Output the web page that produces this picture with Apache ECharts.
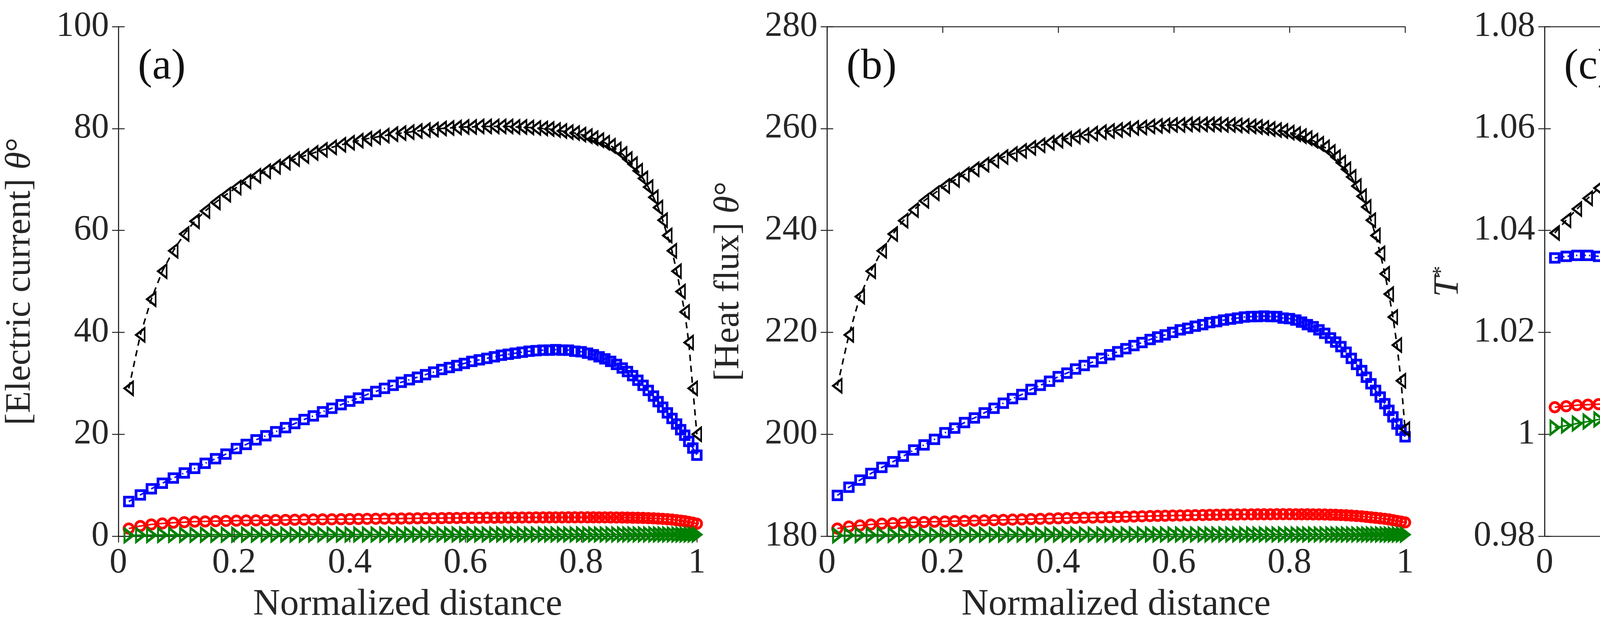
<!DOCTYPE html>
<html><head><meta charset="utf-8">
<script src="https://cdn.jsdelivr.net/npm/echarts@6/dist/echarts.min.js"></script>
<style>html,body{margin:0;padding:0;background:#fff}#c{width:5497px;height:1630px}</style>
</head><body><div id="c"></div>
<script>
const xs = [0.018,0.038,0.057,0.076,0.095,0.114,0.132,0.150,0.168,0.186,
0.204,0.221,0.238,0.255,0.272,0.289,0.305,0.321,0.337,0.353,
0.369,0.385,0.400,0.415,0.430,0.445,0.460,0.475,0.489,0.503,
0.517,0.531,0.545,0.559,0.572,0.585,0.598,0.611,0.624,0.637,
0.650,0.662,0.674,0.686,0.698,0.710,0.722,0.734,0.745,0.756,
0.767,0.778,0.789,0.800,0.811,0.821,0.831,0.841,0.851,0.861,
0.871,0.880,0.889,0.898,0.907,0.916,0.925,0.933,0.941,0.949,
0.957,0.965,0.972,0.979,0.986,0.993,1.000];

const blackA = [29,39.5,46.5,52,56,59.3,61.8,63.8,65.5,67,
68.4,69.6,70.7,71.6,72.5,73.3,74,74.6,75.2,75.8,
76.3,76.8,77.2,77.6,78,78.3,78.6,78.9,79.1,79.3,
79.5,79.7,79.8,80,80.1,80.2,80.3,80.3,80.4,80.4,
80.4,80.4,80.4,80.3,80.3,80.2,80.1,80,79.9,79.7,
79.5,79.3,79.1,78.8,78.5,78.1,77.7,77.2,76.6,75.9,
75,74,73,71.7,70.2,68.5,66.5,64.5,62,59,
56,52,48,44,38,29,20];
const blueA = [6.8,8.1,9.3,10.4,11.4,12.4,13.3,14.3,15.2,16.1,
17.2,18.0,18.9,19.7,20.5,21.3,22.1,22.9,23.6,24.4,
25.1,25.8,26.5,27.1,27.8,28.4,29.0,29.6,30.2,30.7,
31.2,31.7,32.2,32.7,33.1,33.5,33.9,34.3,34.6,34.9,
35.2,35.5,35.7,35.9,36.1,36.3,36.4,36.5,36.5,36.6,
36.5,36.5,36.3,36.2,35.9,35.6,35.2,34.8,34.3,33.7,
33.0,32.3,31.5,30.6,29.6,28.6,27.5,26.4,25.3,24.2,
23.1,22.0,20.9,19.8,18.6,17.3,15.9];
const redA = [1.5,2.0,2.3,2.5,2.65,2.75,2.85,2.9,2.95,3.0,
3.05,3.08,3.1,3.13,3.16,3.19,3.22,3.25,3.27,3.3,
3.32,3.34,3.36,3.38,3.4,3.42,3.44,3.46,3.47,3.49,
3.5,3.52,3.53,3.55,3.56,3.57,3.58,3.6,3.61,3.62,
3.63,3.64,3.65,3.66,3.67,3.67,3.68,3.68,3.69,3.69,
3.69,3.7,3.7,3.7,3.7,3.7,3.69,3.69,3.68,3.67,
3.66,3.65,3.63,3.61,3.58,3.55,3.5,3.45,3.4,3.33,
3.25,3.15,3.05,2.95,2.8,2.65,2.45];
const greenA = [0.15,0.2,0.22,0.24,0.25,0.26,0.27,0.28,0.28,0.29,
0.29,0.3,0.3,0.3,0.31,0.31,0.31,0.31,0.32,0.32,
0.32,0.32,0.32,0.33,0.33,0.33,0.33,0.33,0.33,0.34,
0.34,0.34,0.34,0.34,0.34,0.34,0.34,0.35,0.35,0.35,
0.35,0.35,0.35,0.35,0.35,0.35,0.35,0.35,0.35,0.35,
0.35,0.35,0.35,0.35,0.35,0.35,0.35,0.35,0.35,0.35,
0.35,0.35,0.35,0.35,0.35,0.35,0.34,0.34,0.34,0.34,
0.34,0.33,0.33,0.33,0.32,0.32,0.31];

const blackB = [209.5,219.5,227,232,236,239.3,241.9,244,245.8,247.3,
248.7,249.9,251,252,252.9,253.7,254.4,255,255.6,256.2,
256.7,257.2,257.6,258,258.4,258.7,259,259.3,259.5,259.7,
259.9,260.1,260.2,260.4,260.5,260.6,260.7,260.7,260.8,260.8,
260.8,260.8,260.8,260.7,260.7,260.6,260.5,260.4,260.3,260.1,
259.9,259.7,259.5,259.2,258.9,258.5,258.1,257.6,257,256.3,
255.4,254.4,253.3,252,250.5,248.7,246.7,244.6,242,239,
235.5,231.5,227.5,223,217.5,210.5,201];
const blueB = [188,189.6,191,192.3,193.5,194.6,195.7,196.9,197.9,199,
200.3,201.2,202.3,203.2,204.2,205.1,206.1,207,207.8,208.8,
209.6,210.4,211.3,212,212.8,213.5,214.2,214.9,215.6,216.2,
216.8,217.4,218,218.6,219.1,219.5,220,220.5,220.8,221.2,
221.5,221.9,222.1,222.4,222.6,222.8,223,223.1,223.1,223.2,
223.1,223.1,222.8,222.7,222.4,222,221.5,221.1,220.5,219.8,
218.9,218.1,217.2,216.1,214.9,213.7,212.5,211.2,209.9,208.6,
207.3,206,204.7,203.4,202,200.8,199.5];
const redB = [181.5,181.9,182.1,182.3,182.45,182.55,182.65,182.72,182.78,182.84,
182.9,182.95,183.0,183.05,183.1,183.15,183.2,183.25,183.3,183.35,
183.4,183.45,183.5,183.54,183.58,183.62,183.66,183.7,183.74,183.78,
183.82,183.86,183.9,183.94,183.98,184.01,184.04,184.07,184.1,184.13,
184.15,184.17,184.19,184.21,184.23,184.25,184.27,184.28,184.29,184.3,
184.3,184.31,184.31,184.31,184.3,184.3,184.29,184.28,184.27,184.25,
184.22,184.19,184.15,184.1,184.04,183.97,183.9,183.8,183.7,183.6,
183.5,183.4,183.3,183.15,183.0,182.85,182.7];
const greenB = [180.15,180.2,180.22,180.24,180.25,180.26,180.27,180.28,180.28,180.29,
180.29,180.3,180.3,180.3,180.31,180.31,180.31,180.31,180.32,180.32,
180.32,180.32,180.32,180.33,180.33,180.33,180.33,180.33,180.33,180.34,
180.34,180.34,180.34,180.34,180.34,180.34,180.34,180.35,180.35,180.35,
180.35,180.35,180.35,180.35,180.35,180.35,180.35,180.35,180.35,180.35,
180.35,180.35,180.35,180.35,180.35,180.35,180.35,180.35,180.35,180.35,
180.35,180.35,180.35,180.35,180.35,180.35,180.34,180.34,180.34,180.34,
180.34,180.33,180.33,180.33,180.32,180.32,180.31];

const blackC = [1.0395,1.0420,1.0442,1.0463,1.0483,1.0502,1.0519,1.0536,1.0552,1.0566,
1.0580,1.0592,1.0603,1.0612,1.0620,1.0626,1.0630,1.0633,1.0635,1.0636,
1.0636,1.0635,1.0633,1.0630,1.0626,1.0620,1.0614,1.0607,1.0599,1.0590,
1.0582,1.0574,1.0565,1.0556,1.0546,1.0537,1.0527,1.0514,1.0500,1.0485,
1.0469,1.0453,1.0437,1.0420,1.0403,1.0386,1.0368,1.0350,1.0333,1.0316,
1.0299,1.0282,1.0265,1.0248,1.0231,1.0215,1.0200,1.0184,1.0169,1.0153,
1.0138,1.0124,1.0110,1.0096,1.0083,1.0069,1.0056,1.0043,1.0031,1.0019,
1.0007,0.9995,0.9984,0.9974,0.9965,0.9959,0.9955];
const blueC = [1.0346,1.0349,1.0351,1.0351,1.0349,1.0346,1.0342,1.0337,1.0332,1.0326,
1.0315,1.0309,1.0303,1.0297,1.0291,1.0285,1.0279,1.0273,1.0267,1.0261,
1.0255,1.0249,1.0244,1.0238,1.0232,1.0226,1.0220,1.0214,1.0208,1.0202,
1.0197,1.0191,1.0185,1.0180,1.0174,1.0169,1.0164,1.0158,1.0152,1.0145,
1.0139,1.0133,1.0127,1.0121,1.0115,1.0109,1.0103,1.0097,1.0092,1.0086,
1.0081,1.0076,1.0070,1.0065,1.0060,1.0055,1.0050,1.0045,1.0040,1.0035,
1.0031,1.0026,1.0022,1.0017,1.0013,1.0008,1.0004,1.0000,0.9996,0.9992,
0.9988,0.9984,0.9981,0.9978,0.9975,0.9972,0.9969];
const redC = [1.0053,1.0055,1.0057,1.0058,1.0059,1.0060,1.0061,1.0061,1.0062,1.0062,
1.0062,1.0062,1.0062,1.0062,1.0061,1.0061,1.0060,1.0060,1.0059,1.0058,
1.0058,1.0057,1.0056,1.0055,1.0054,1.0053,1.0052,1.0051,1.0050,1.0049,
1.0048,1.0047,1.0046,1.0045,1.0044,1.0043,1.0042,1.0041,1.0040,1.0039,
1.0038,1.0037,1.0036,1.0035,1.0034,1.0033,1.0032,1.0031,1.0030,1.0029,
1.0028,1.0027,1.0026,1.0025,1.0024,1.0023,1.0022,1.0021,1.0020,1.0019,
1.0018,1.0017,1.0016,1.0015,1.0014,1.0013,1.0013,1.0012,1.0011,1.0011,
1.0010,1.0010,1.0009,1.0009,1.0008,1.0008,1.0008];
const greenC = [1.0013,1.0017,1.0021,1.0025,1.0029,1.0032,1.0036,1.0039,1.0042,1.0044,
1.0046,1.0048,1.0050,1.0051,1.0052,1.0053,1.0054,1.0055,1.0056,1.0057,
1.0057,1.0058,1.0058,1.0058,1.0058,1.0058,1.0058,1.0058,1.0057,1.0057,
1.0057,1.0056,1.0056,1.0055,1.0055,1.0054,1.0053,1.0052,1.0051,1.0050,
1.0049,1.0048,1.0047,1.0046,1.0045,1.0044,1.0043,1.0042,1.0041,1.0040,
1.0039,1.0038,1.0037,1.0036,1.0035,1.0034,1.0033,1.0032,1.0031,1.0030,
1.0029,1.0028,1.0027,1.0026,1.0025,1.0024,1.0022,1.0021,1.0019,1.0017,
1.0015,1.0013,1.0011,1.0009,1.0007,1.0005,1.0002];

const xTicks = [0, 0.2, 0.4, 0.6, 0.8, 1];
const panelLabels = ['(a)', '(b)', '(c)'];
const yRanges = [[0,100,20],[180,280,20],[0.98,1.08,0.02]];
const yNames = ['[Electric current] {i|θ}°', '[Heat flux] {i|θ}°', '{i|T}{s|*}'];
const xName = 'Normalized distance';

const FONT = 'Liberation Serif';
const TXT = '#262626';
const grids = [
  {left:303, right:5497-1784, top:68, bottom:258},
  {left:2117, right:5497-3597, top:68, bottom:258},
  {left:3954, right:85, top:68, bottom:258}
];
const panels = [
  {black:blackA, blue:blueA, red:redA, green:greenA},
  {black:blackB, blue:blueB, red:redB, green:greenB},
  {black:blackC, blue:blueC, red:redC, green:greenC}
];
const zip = ys => xs.map((x,i)=>[x, ys[i]]);
const axisLineS = {show:true, lineStyle:{color:TXT, width:2.5}};
const tickS = {show:true, inside:true, length:16, lineStyle:{color:TXT, width:2.5}};
const rich = {i:{fontFamily:FONT, fontStyle:'italic', fontSize:92, color:TXT},
              s:{fontFamily:FONT, fontSize:58, color:TXT, padding:[0,0,34,0]}};

const xAxis = [], yAxis = [], series = [], title = [];
grids.forEach((g, k) => {
  const [ymin, ymax, yint] = yRanges[k];
  xAxis.push({gridIndex:k, type:'value', min:0, max:1, interval:0.2, position:'bottom',
    name:xName, nameLocation:'middle', nameGap:128,
    nameTextStyle:{fontFamily:FONT, fontSize:96, color:TXT},
    axisLine:axisLineS, axisTick:tickS, splitLine:{show:false},
    axisLabel:{fontFamily:FONT, fontSize:90, color:TXT, margin:24,
      formatter:v=>String(+v.toFixed(2))}});
  xAxis.push({gridIndex:k, type:'value', min:0, max:1, interval:0.2, position:'top',
    axisLine:axisLineS, axisTick:tickS, splitLine:{show:false}, axisLabel:{show:false}});
  yAxis.push({gridIndex:k, type:'value', min:ymin, max:ymax, interval:yint, position:'left',
    name:yNames[k], nameLocation:'middle', nameGap: k===2 ? 200 : 205,
    nameTextStyle:{fontFamily:FONT, fontSize:92, color:TXT, rich:rich},
    axisLine:axisLineS, axisTick:tickS, splitLine:{show:false},
    axisLabel:{fontFamily:FONT, fontSize:90, color:TXT, margin:24,
      formatter:v=>String(+v.toFixed(2))}});
  yAxis.push({gridIndex:k, type:'value', min:ymin, max:ymax, interval:yint, position:'right',
    axisLine:axisLineS, axisTick:tickS, splitLine:{show:false}, axisLabel:{show:false}});
  title.push({text:panelLabels[k], left:g.left+45, top:112,
    textStyle:{fontFamily:FONT, fontSize:110, fontWeight:'normal', color:'#111'}});
  const p = panels[k];
  const mk = (ys, color, symbol, size, rot, dash, bw, z) => ({
    type:'line', xAxisIndex:2*k, yAxisIndex:2*k, data:zip(ys), clip:false,
    symbol:symbol, symbolSize:size, symbolRotate:rot, showSymbol:true, z:z,
    lineStyle:{color:color, width:4, type:dash},
    itemStyle:{color:'rgba(255,255,255,0)', borderColor:color, borderWidth:bw},
    animation:false, silent:true
  });
  series.push(mk(p.red, '#ff0000', 'circle', 24, 0, 'solid', 7, 2));
  series.push(mk(p.blue, '#0000ff', 'rect', 22, 0, [14,8,3,8], 7, 3));
  series.push(mk(p.green, '#008000', 'triangle', [34,22], -90, 'solid', 6, 4));
  series.push(mk(p.black, '#000000', 'triangle', [34,22], 90, [16,12], 5, 5));
});

const chart = echarts.init(document.getElementById('c'), null, {renderer:'canvas'});
chart.setOption({backgroundColor:'#fff', animation:false, title, grid:grids, xAxis, yAxis, series});
</script></body></html>
